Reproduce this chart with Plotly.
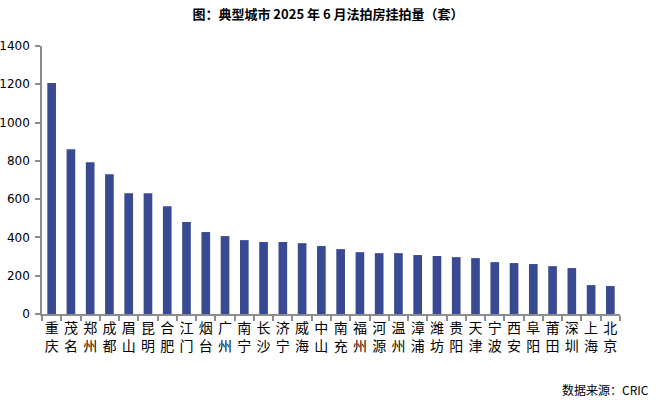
import plotly.graph_objects as go

cities = ["重庆", "茂名", "郑州", "成都", "眉山", "昆明", "合肥", "江门", "烟台", "广州",
          "南宁", "长沙", "济宁", "威海", "中山", "南充", "福州", "河源", "温州", "漳浦",
          "潍坊", "贵阳", "天津", "宁波", "西安", "阜阳", "莆田", "深圳", "上海", "北京"]
values = [1207, 861, 793, 730, 631, 631, 563, 480, 428, 407,
          386, 376, 376, 370, 355, 339, 323, 318, 318, 308,
          303, 297, 292, 271, 266, 261, 250, 240, 151, 146]
y_ticks = [0, 200, 400, 600, 800, 1000, 1200, 1400]

labels = ["<br>".join(list(c)) for c in cities]

fig = go.Figure(go.Bar(x=labels, y=values, marker_color="rgb(58,74,146)", marker_line_width=0))

fig.update_layout(
    width=656, height=404,
    margin=dict(l=42, r=36, t=46, b=90),
    plot_bgcolor="white", paper_bgcolor="white",
    bargap=0.55,
    showlegend=False,
    title=dict(text="<b>图：典型城市 2025 年 6 月法拍房挂拍量（套）</b>",
               x=0.5, xanchor="center", y=0.965, yanchor="middle",
               font=dict(family="Noto Sans CJK SC", size=13, color="black")),
    annotations=[dict(text="数据来源：CRIC", xref="paper", yref="paper",
                      x=1.0, xanchor="right", xshift=31, y=0, yanchor="middle", yshift=-75,
                      showarrow=False, font=dict(family="Noto Sans CJK SC", size=12, color="black"))],
)
fig.update_yaxes(range=[0, 1400], tickvals=y_ticks, showgrid=False, zeroline=False,
                 automargin=False,
                 showline=True, linecolor="#8c8c8c", linewidth=1.5,
                 ticks="outside", ticklen=5, tickcolor="#8c8c8c", tickwidth=1.5,
                 ticklabelstandoff=3,
                 tickfont=dict(family="DejaVu Sans", size=12, color="black"))
fig.update_xaxes(showgrid=False, showline=True, linecolor="#8c8c8c", linewidth=1.5,
                 automargin=False,
                 ticks="outside", tickson="boundaries", ticklen=5, tickcolor="#8c8c8c", tickwidth=1.5,
                 tickangle=0,
                 tickfont=dict(family="Noto Sans CJK SC", size=14, color="black"))

fig.write_html("out.html",
               config={"displayModeBar": False},
               post_script="document.body.style.margin='0';document.body.style.overflow='hidden';")
